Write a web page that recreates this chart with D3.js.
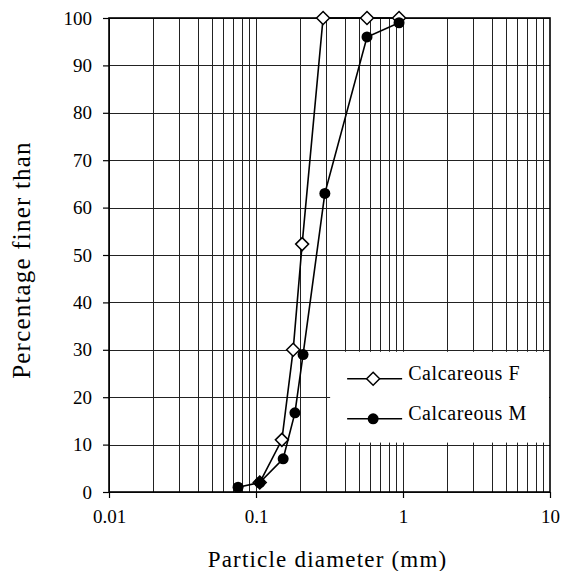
<!DOCTYPE html>
<meta charset="utf-8">
<script src="https://d3js.org/d3.v7.min.js"></script>
<div id="my_dataviz"></div>

<style>
  body { margin: 0; background: #fff; }
  text { font-family: "Liberation Serif", serif; fill: #000; }
</style>

<script>

// particle size distribution
var fDiam = [0.106, 0.15, 0.179, 0.206, 0.286, 0.569, 0.94];
var fPct  = [2, 11, 30, 52.3, 100, 100, 100];

var mDiam = [0.0755, 0.106, 0.153, 0.184, 0.209, 0.294, 0.569, 0.94];
var mPct  = [1, 2, 7, 16.7, 29, 63, 96, 99];

var xTicks = [0.01, 0.1, 1, 10];
var xTickLabels = ["0.01", "0.1", "1", "10"];
var yTicks = [0, 10, 20, 30, 40, 50, 60, 70, 80, 90, 100];

var seriesNames = ["Calcareous F", "Calcareous M"];

var margin = {top: 18, right: 13, bottom: 79, left: 109},
    W = 563, H = 571,
    width = W - margin.left - margin.right,
    height = H - margin.top - margin.bottom;

var svg = d3.select("#my_dataviz")
  .append("svg")
    .attr("width", W)
    .attr("height", H)
  .append("g")
    .attr("transform", "translate(" + margin.left + "," + margin.top + ")");

var x = d3.scaleLog()
  .domain([0.01, 10])
  .range([0, width]);

var y = d3.scaleLinear()
  .domain([0, 100])
  .range([height, 0]);

// minor log gridlines 1..9 per decade
var gridX = [];
[0.01, 0.1, 1].forEach(function(dec) {
  for (var k = 1; k <= 9; k++) gridX.push(dec * k);
});

svg.append("g")
  .selectAll("line")
  .data(gridX)
  .enter().append("line")
    .attr("x1", function(d) { return Math.round(x(d)) + 0.5; })
    .attr("x2", function(d) { return Math.round(x(d)) + 0.5; })
    .attr("y1", 0)
    .attr("y2", height)
    .style("stroke", "#222")
    .style("stroke-width", 1)
    .style("shape-rendering", "crispEdges");

svg.append("g")
  .selectAll("line")
  .data(yTicks)
  .enter().append("line")
    .attr("x1", 0)
    .attr("x2", width)
    .attr("y1", function(d) { return Math.round(y(d)) + 0.5; })
    .attr("y2", function(d) { return Math.round(y(d)) + 0.5; })
    .style("stroke", "#222")
    .style("stroke-width", 1)
    .style("shape-rendering", "crispEdges");

// legend background hides the grid behind it
var legX = x(0.3) + 4, legY = y(30) + 2;
svg.append("rect")
  .attr("x", legX)
  .attr("y", legY)
  .attr("width", width - legX - 1)
  .attr("height", y(10) - legY - 2)
  .style("fill", "#fff");

// axes
var xAxis = svg.append("g")
  .attr("transform", "translate(0," + height + ")")
  .call(d3.axisBottom(x).tickValues(xTicks).tickFormat(function(d, i) { return xTickLabels[i]; }).tickSize(6).tickPadding(12));

var yAxis = svg.append("g")
  .call(d3.axisLeft(y).tickValues(yTicks).tickSize(6).tickPadding(11));

[xAxis, yAxis].forEach(function(a) {
  a.attr("font-family", null);
  a.select(".domain").remove();
  a.selectAll("line").style("stroke", "#000").style("stroke-width", 1.2);
  a.selectAll("text")
    .style("font-family", "Liberation Serif, serif")
    .style("font-size", "19px")
    .style("fill", "#000");
});

svg.append("rect")
  .attr("width", width)
  .attr("height", height)
  .style("fill", "none")
  .style("stroke", "#000")
  .style("stroke-width", 1.6);

// data
var line = d3.line()
  .x(function(d) { return x(d[0]); })
  .y(function(d) { return y(d[1]); });

var fData = fDiam.map(function(d, i) { return [d, fPct[i]]; });
var mData = mDiam.map(function(d, i) { return [d, mPct[i]]; });

var diamond = "M0,-6.5L6.5,0L0,6.5L-6.5,0Z";

svg.append("path")
  .datum(fData)
  .attr("d", line)
  .style("fill", "none")
  .style("stroke", "#000")
  .style("stroke-width", 1.6);

svg.append("g")
  .selectAll("path")
  .data(fData)
  .enter().append("path")
    .attr("d", diamond)
    .attr("transform", function(d) { return "translate(" + x(d[0]) + "," + y(d[1]) + ")"; })
    .style("fill", "#fff")
    .style("stroke", "#000")
    .style("stroke-width", 1.5);

svg.append("path")
  .datum(mData)
  .attr("d", line)
  .style("fill", "none")
  .style("stroke", "#000")
  .style("stroke-width", 1.6);

svg.append("g")
  .selectAll("circle")
  .data(mData)
  .enter().append("circle")
    .attr("cx", function(d) { return x(d[0]); })
    .attr("cy", function(d) { return y(d[1]); })
    .attr("r", 5.5)
    .style("fill", "#000");

// legend
var legend = svg.selectAll(".legend")
    .data(seriesNames)
  .enter().append("g")
    .attr("class", "legend")
    .attr("transform", function(d, i) { return "translate(" + (legX + 17) + "," + (legY + 27 + i * 40) + ")"; });

legend.append("line")
  .attr("x1", 0)
  .attr("x2", 55)
  .style("stroke", "#000")
  .style("stroke-width", 1.5);

legend.filter(function(d, i) { return i === 0; })
  .append("path")
    .attr("d", diamond)
    .attr("transform", "translate(26,0)")
    .style("fill", "#fff")
    .style("stroke", "#000")
    .style("stroke-width", 1.5);

legend.filter(function(d, i) { return i === 1; })
  .append("circle")
    .attr("cx", 26)
    .attr("r", 5.5)
    .style("fill", "#000");

legend.append("text")
  .attr("x", 61)
  .attr("y", 1)
  .style("font-size", "20px")
  .style("letter-spacing", "0.6px")
  .text(function(d) { return d; });

// axis titles
svg.append("text")
  .attr("x", width / 2 - 2)
  .attr("y", height + 75)
  .style("text-anchor", "middle")
  .style("font-size", "23px")
  .style("letter-spacing", "1.2px")
  .text("Particle diameter (mm)");

svg.append("text")
  .attr("transform", "rotate(-90)")
  .attr("x", -(260 - margin.top))
  .attr("y", -margin.left + 30)
  .style("text-anchor", "middle")
  .style("font-size", "25px")
  .style("letter-spacing", "1.2px")
  .text("Percentage finer than");

</script>
